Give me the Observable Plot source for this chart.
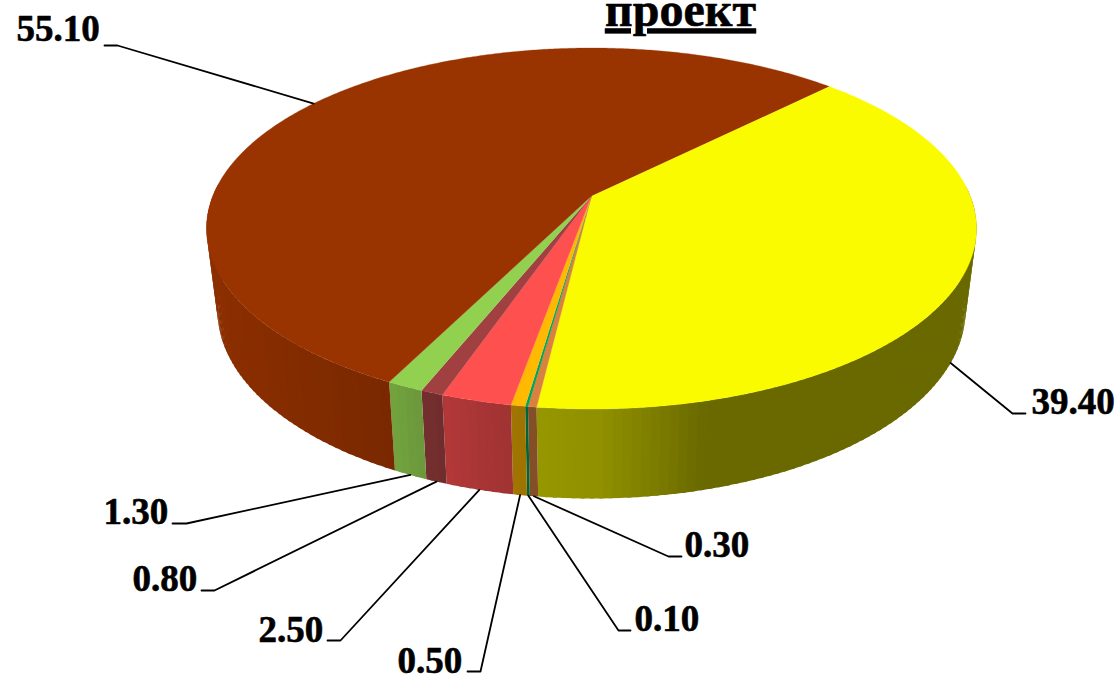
<!DOCTYPE html>
<html><head><meta charset="utf-8">
<script src="https://cdn.jsdelivr.net/npm/d3@7"></script>
<script src="https://cdn.jsdelivr.net/npm/@observablehq/plot@0.6"></script>
<style>
html,body{margin:0;padding:0;background:#fff;overflow:hidden}
svg{display:block}
.ttl text{text-decoration:underline;text-decoration-thickness:4px}
</style></head><body>
<div id="c"></div>
<script>
// Data, clockwise from the yellow slice
const sliceNames = ["a","b","c","d","e","f","g","h"];
const sliceValues = [39.4,0.3,0.1,0.5,2.5,0.8,1.3,55.1];
const sliceColors = ["#fbfb00","#d98240","#00a35a","#ffb900","#ff5050","#a04040","#92d050","#993300"];
const titleText = "проект";

// Label layout: elbow of the leader, end of its stub, text start, text baseline
const elbowX = [1012,668,618,480,340,214,186,117];
const elbowY = [413,556,630,671,640,590,523,45];
const stubX  = [1025,681,630,467,327,201,172,104];
const textX  = [1031,684,634,397,258,132,103,16];
const textY  = [413,556,630,672,641,590,523,40];

// Pie geometry (perspective view of two discs)
const W = 1118, H = 676, startAngle = 45, k = 0.18;
const topDisc = {cx:591, cy:228, rx:385, ry:180.5};
const lowDisc = {cx:591, cy:310, rx:374, ry:188};
function project(deg, disc, r = 1) {
  const t = deg*Math.PI/180, u = r*Math.sin(t), v = r*Math.cos(t), d = 1 + k*v;
  const a = disc.ry*(1-k*k), b = disc.rx*Math.sqrt(1-k*k), ay = disc.cy - disc.ry*k;
  return [disc.cx + b*u/d, ay - a*v/d];
}
const total = d3.sum(sliceValues);
const cum = d3.cumsum(sliceValues);
const slices = sliceValues.map((value,i)=>({
  name:sliceNames[i], value, color:sliceColors[i], i,
  a0:startAngle + (cum[i]-value)/total*360,
  a1:startAngle + cum[i]/total*360
}));

// Wall lighting by horizontal position
const shade = d3.scaleLinear().domain([206,390,420,480,540,600,650,700,976]).range([.92,.79,.73,.66,.6,.57,.5,.42,.42]);
function darker(c,f){const r=d3.rgb(c);return d3.rgb(r.r*f,r.g*f,r.b*f).formatHex();}

const wallRows = [], topRows = [];
slices.forEach((s,si)=>{
  const n = Math.max(1,Math.ceil((s.a1-s.a0)/1.2));
  for(let j=0;j<n;j++){
    const a = s.a0+(s.a1-s.a0)*j/n, b = s.a0+(s.a1-s.a0)*(j+1)/n;
    if (Math.cos(a*Math.PI/180) > 0.05 && Math.cos(b*Math.PI/180) > 0.05) continue;
    // each strip runs slightly under the next one, so that no seam shows
    const over = (j < n-1) ? b+0.5 : b;
    const p1=project(a,topDisc),p2=project(over,topDisc),p3=project(over,lowDisc),p4=project(a,lowDisc);
    const col=darker(s.color,shade((p1[0]+p2[0]+p3[0]+p4[0])/4));
    [p1,p2,p3,p4].forEach(p=>wallRows.push({id:s.name+j,x:p[0],y:p[1],color:col}));
  }
  topRows.push({id:s.name,x:project(0,topDisc,0)[0],y:project(0,topDisc,0)[1],color:s.color});
  const m=Math.max(2,Math.ceil((s.a1-s.a0)/0.5));
  for(let j=0;j<=m;j++){
    const p=project(s.a0+(s.a1-s.a0)*j/m,topDisc);
    topRows.push({id:s.name,x:p[0],y:p[1],color:s.color});
  }
});

const leaderRows = [], labelRows = [];
slices.forEach((s,i)=>{
  const mid=(s.a0+s.a1)/2, back=Math.cos(mid*Math.PI/180)>0;
  const p=project(mid,back?topDisc:lowDisc);
  leaderRows.push({id:s.name,x:p[0],y:p[1]},{id:s.name,x:elbowX[i],y:elbowY[i]},{id:s.name,x:stubX[i],y:elbowY[i]});
  labelRows.push({x:textX[i],y:textY[i],text:d3.format(".2f")(s.value)});
});

const serif = "'Liberation Serif','Times New Roman',serif";
const chart = Plot.plot({
  width:W, height:H, margin:0,
  x:{domain:[0,W],range:[0,W],axis:null},
  y:{domain:[0,H],range:[0,H],axis:null},
  color:{type:"identity"},
  style:{background:"#fff"},
  marks:[
    Plot.line(wallRows,{x:"x",y:"y",z:"id",fill:"color",stroke:"none"}),
    Plot.line(topRows,{x:"x",y:"y",z:"id",fill:"color",stroke:"color",strokeWidth:0.3}),
    Plot.line(leaderRows,{x:"x",y:"y",z:"id",stroke:"#000",strokeWidth:1.8}),
    Plot.text(labelRows,{x:"x",y:"y",text:"text",textAnchor:"start",lineAnchor:"bottom",fontFamily:serif,fontWeight:"bold",fontSize:37,fill:"#000",stroke:"#000",strokeWidth:0.6}),
    Plot.text([titleText],{x:()=>680,y:()=>25,text:d=>d,lineAnchor:"bottom",fontFamily:serif,fontWeight:"bold",fontSize:48,fill:"#000",stroke:"#000",strokeWidth:0.6,className:"ttl"})
  ]
});
document.getElementById("c").append(chart);
</script>
</body></html>
